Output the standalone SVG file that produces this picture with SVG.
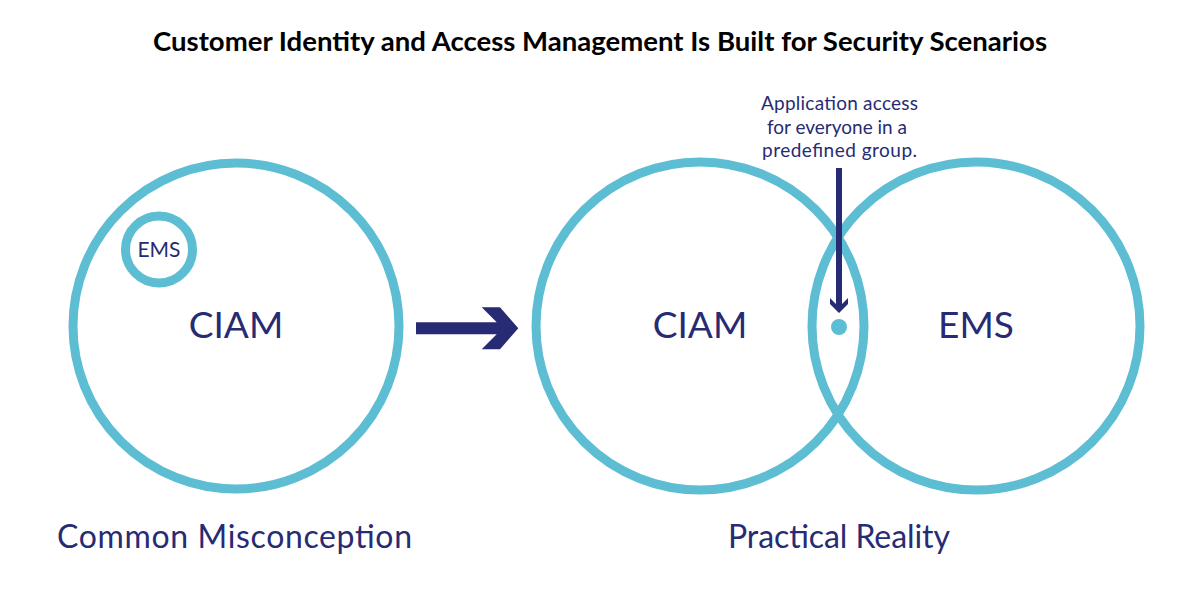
<svg xmlns="http://www.w3.org/2000/svg" width="1200" height="600" viewBox="0 0 1200 600">
<style>
.ring{fill:none;stroke:#5dbdd3;stroke-width:9}
.lbl{fill:#272b74;font-family:Lato,"Open Sans",sans-serif;text-anchor:middle}
.title{fill:#000;font-family:Lato,"Liberation Sans",sans-serif;font-weight:bold;font-size:27px;text-anchor:middle}
.ptr{fill:#272b74}
</style>
<rect width="1200" height="600" fill="#fff"/>
<text class="title" x="600" y="51" textLength="894" lengthAdjust="spacingAndGlyphs">Customer Identity and Access Management Is Built for Security Scenarios</text>
<g id="left-ciam">
<circle class="ring" cx="236" cy="326" r="163"/>
<text class="lbl" x="236" y="338" font-size="37">CIAM</text>
</g>
<g id="left-ems">
<circle class="ring" cx="159" cy="249.5" r="33.5"/>
<text class="lbl" x="159" y="257" font-size="21">EMS</text>
</g>
<g id="right-ciam">
<circle class="ring" cx="700" cy="326" r="164"/>
<text class="lbl" x="700" y="338" font-size="37">CIAM</text>
</g>
<g id="right-ems">
<circle class="ring" cx="976" cy="326" r="164"/>
<text class="lbl" x="976" y="338" font-size="37">EMS</text>
</g>
<g id="intersection">
<circle cx="839" cy="327" r="8" fill="#5dbdd3"/>
</g>
<g id="annotation">
<text class="lbl" font-size="19"><tspan x="839.5" y="110" textLength="157">Application access</tspan><tspan x="837" y="134" textLength="140">for everyone in a</tspan><tspan x="839.5" y="157" textLength="155">predefined group.</tspan></text>
</g>
<g id="captions">
<text class="lbl" x="234.5" y="548" font-size="32" textLength="355">Common Misconception</text>
<text class="lbl" x="839" y="548" font-size="32" textLength="222">Practical Reality</text>
</g>
<g id="connectors">
<polygon class="ptr" points="416,322.3 496.7,322.3 481.7,307.3 500,307.3 518.3,328.3 500,349.3 481.7,349.3 496.7,334.3 416,334.3"/>
<polygon class="ptr" points="836,168 842,168 842,304 848,298 848,304 839,313 830,304 830,298 836,304"/>
</g>
</svg>
